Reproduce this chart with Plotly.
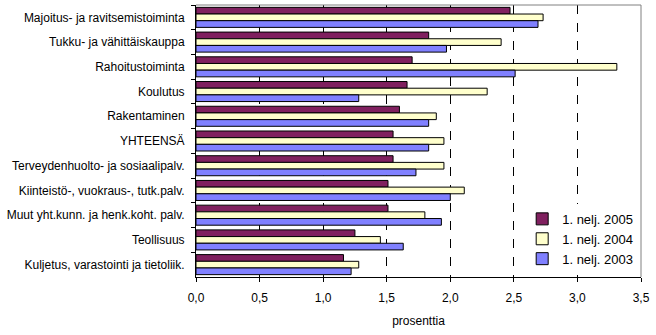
import plotly.graph_objects as go

categories = [
    "Majoitus- ja ravitsemistoiminta",
    "Tukku- ja vähittäiskauppa",
    "Rahoitustoiminta",
    "Koulutus",
    "Rakentaminen",
    "YHTEENSÄ",
    "Terveydenhuolto- ja sosiaalipalv.",
    "Kiinteistö-, vuokraus-, tutk.palv.",
    "Muut yht.kunn. ja henk.koht. palv.",
    "Teollisuus",
    "Kuljetus, varastointi ja tietoliik.",
]
series_names = ["1. nelj. 2005", "1. nelj. 2004", "1. nelj. 2003"]
v2005 = [2.47, 1.83, 1.70, 1.66, 1.60, 1.55, 1.55, 1.51, 1.51, 1.25, 1.16]
v2004 = [2.73, 2.40, 3.31, 2.29, 1.89, 1.95, 1.95, 2.11, 1.80, 1.45, 1.28]
v2003 = [2.69, 1.97, 2.51, 1.28, 1.83, 1.83, 1.73, 2.00, 1.93, 1.63, 1.22]
colors = ["#80205F", "#FFFFCC", "#8080FF"]
x_ticks = [0, 0.5, 1.0, 1.5, 2.0, 2.5, 3.0, 3.5]

fig = go.Figure()
for name, vals, col in zip(series_names, [v2005, v2004, v2003], colors):
    fig.add_trace(go.Bar(
        y=categories, x=vals, name=name, orientation="h",
        marker=dict(color=col, line=dict(color="black", width=1)),
    ))

font = dict(family="Liberation Sans, Arial, sans-serif", size=12, color="black")
legend_font = dict(family="Liberation Sans, Arial, sans-serif", size=13, color="black")
fig.update_layout(
    width=656, height=335,
    margin=dict(l=196, r=15, t=5, b=58),
    paper_bgcolor="white", plot_bgcolor="white",
    barmode="group", bargap=0.19, bargroupgap=0,
    separators=", ",
    font=font,
    showlegend=True,
    legend=dict(
        x=0.733, xanchor="left", y=0.14, yanchor="middle",
        bgcolor="white", borderwidth=0, font=legend_font,
        traceorder="normal", tracegroupgap=0, itemwidth=30,
    ),
    xaxis=dict(
        range=[0, 3.5], tickvals=x_ticks, tickformat=".1f",
        showgrid=True, gridcolor="black", griddash="dash", gridwidth=1,
        showline=True, linecolor="black", linewidth=1,
        ticks="outside", ticklen=4, tickcolor="black",
        ticklabelstandoff=6,
        zeroline=False,
        title=dict(text="prosenttia", font=font, standoff=12),
    ),
    yaxis=dict(
        autorange="reversed",
        showline=True, linecolor="black", linewidth=1,
        ticks="outside", ticklen=4, tickcolor="black",
        tickson="boundaries", showgrid=False,
        ticklabelstandoff=8,
    ),
    shapes=[
        dict(type="line", xref="paper", yref="paper", x0=0, x1=1, y0=1, y1=1,
             line=dict(color="#808080", width=1), layer="above"),
        dict(type="line", xref="paper", yref="paper", x0=1, x1=1, y0=0, y1=1,
             line=dict(color="#808080", width=1), layer="above"),
    ],
)

fig.write_html("out.html")
